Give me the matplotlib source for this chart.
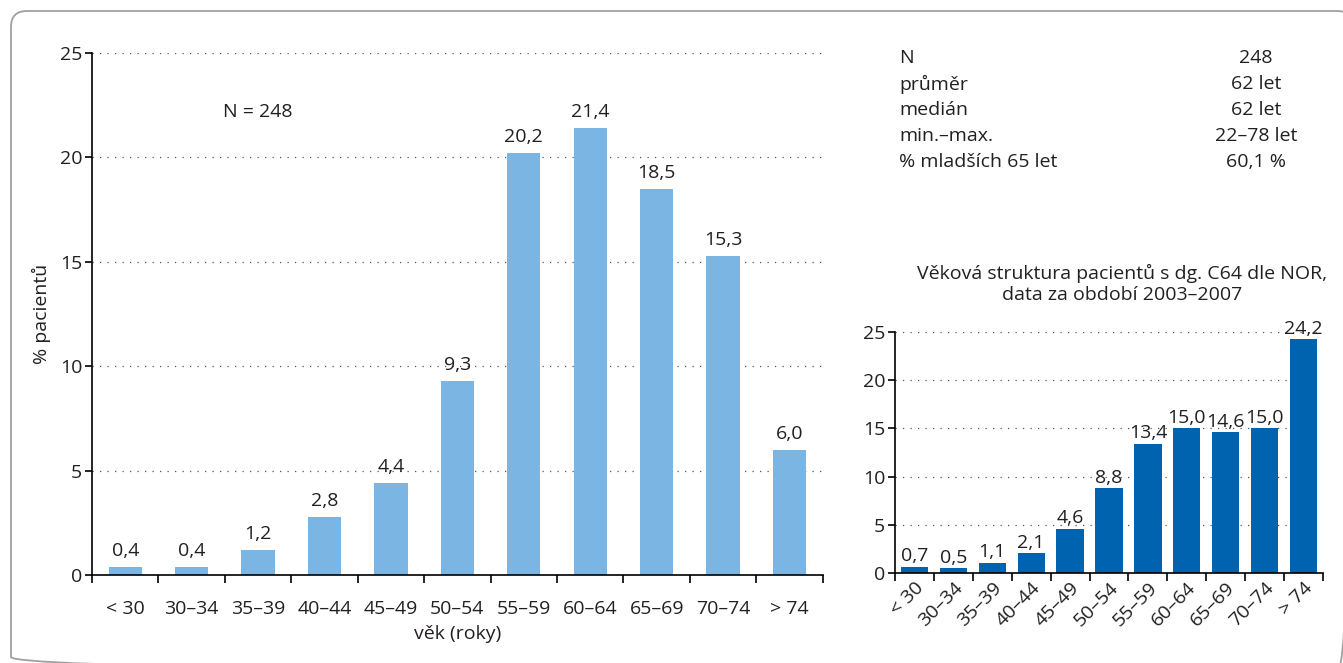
import matplotlib
matplotlib.use("Agg")
import matplotlib.pyplot as plt
from matplotlib.patches import FancyBboxPatch
import numpy as np

plt.rcParams['font.family'] = ['Open Sans', 'DejaVu Sans']

categories = ["< 30", "30–34", "35–39", "40–44", "45–49", "50–54", "55–59", "60–64", "65–69", "70–74", "> 74"]
main_values = [0.4, 0.4, 1.2, 2.8, 4.4, 9.3, 20.2, 21.4, 18.5, 15.3, 6.0]
inset_values = [0.7, 0.5, 1.1, 2.1, 4.6, 8.8, 13.4, 15.0, 14.6, 15.0, 24.2]
yticks = [0, 5, 10, 15, 20, 25]
stat_labels = ["N", "průměr", "medián", "min.–max.", "% mladších 65 let"]
stat_values = ["248", "62 let", "62 let", "22–78 let", "60,1 %"]

TXT = "#231f20"
FS = 14
W, H = 1343, 663
fig = plt.figure(figsize=(W / 100, H / 100), dpi=100)

# rounded frame drawn in pixel coordinates
bg = fig.add_axes([0, 0, 1, 1])
bg.set_xlim(0, W)
bg.set_ylim(H, 0)
bg.axis("off")
bg.add_patch(FancyBboxPatch((11, 11), W + 10 - 11, H + 10 - 11,
                            boxstyle="round,pad=0,rounding_size=16",
                            fill=False, edgecolor="#a0a0a0", linewidth=1.3))

def fmt(v):
    return f"{v:.1f}".replace(".", ",")

def style_axes(ax, fs):
    for s in ["top", "right"]:
        ax.spines[s].set_visible(False)
    ax.spines["left"].set_linewidth(1.2)
    ax.spines["bottom"].set_linewidth(1.2)
    ax.set_ylim(0, 25)
    ax.set_yticks(yticks)
    ax.set_yticklabels([str(t) for t in yticks], fontsize=fs, color=TXT)
    ax.yaxis.grid(True, linestyle=(0, (1, 5)), color="#555555", linewidth=0.9)
    ax.set_axisbelow(True)
    n = len(categories)
    ax.set_xlim(-0.5, n - 0.5)
    ax.set_xticks(np.arange(n))
    ax.tick_params(axis="x", length=0)
    ax.set_xticks(np.arange(-0.5, n, 1.0), minor=True)
    ax.tick_params(axis="x", which="minor", length=6, width=1.2, direction="out")
    ax.tick_params(axis="y", length=5, width=1.2, direction="out", pad=2)

# main chart
ax = fig.add_axes([92 / W, 1 - 575 / H, (822.7 - 92) / W, (575 - 53) / H])
x = np.arange(len(categories))
ax.bar(x, main_values, width=0.5, color="#7ab5e3", zorder=2)
style_axes(ax, FS)
ax.set_xticklabels(categories, fontsize=FS, color=TXT)
ax.tick_params(axis="x", which="major", pad=18)
for xi, v in zip(x, main_values):
    ax.annotate(fmt(v), (xi, v), xytext=(0, 5), textcoords="offset points",
                ha="center", va="bottom", fontsize=FS, color=TXT)
ax.set_ylabel("% pacientů", fontsize=FS, color=TXT, labelpad=6)
ax.set_xlabel("věk (roky)", fontsize=FS, color=TXT, labelpad=5)
ax.text(2.0, 22.17, "N = 248", ha="center", va="center", fontsize=FS, color=TXT)

# stats table
for i, (lab, val) in enumerate(zip(stat_labels, stat_values)):
    yy = 1 - (58 + i * 26) / H
    fig.text(899 / W, yy, lab, ha="left", va="center", fontsize=FS, color=TXT)
    fig.text(1256 / W, yy, val, ha="center", va="center", fontsize=FS, color=TXT)

# inset chart
ax2 = fig.add_axes([895 / W, 1 - 573.3 / H, (1323 - 895) / W, (573.3 - 331.7) / H])
ax2.bar(x, inset_values, width=0.7, color="#0063b0", zorder=2)
style_axes(ax2, FS)
ax2.set_xticklabels(categories, fontsize=FS, color=TXT, rotation=45,
                    ha="right", rotation_mode="anchor")
ax2.tick_params(axis="x", which="major", pad=4)
for xi, v in zip(x, inset_values):
    ax2.annotate(fmt(v), (xi, v), xytext=(0, 1), textcoords="offset points",
                 ha="center", va="bottom", fontsize=FS, color=TXT)
fig.text(1122 / W, 1 - 284 / H, "Věková struktura pacientů s dg. C64 dle NOR,\ndata za období 2003–2007",
         ha="center", va="center", fontsize=FS, color=TXT, linespacing=1.2)

fig.savefig("out.png", dpi=100)
